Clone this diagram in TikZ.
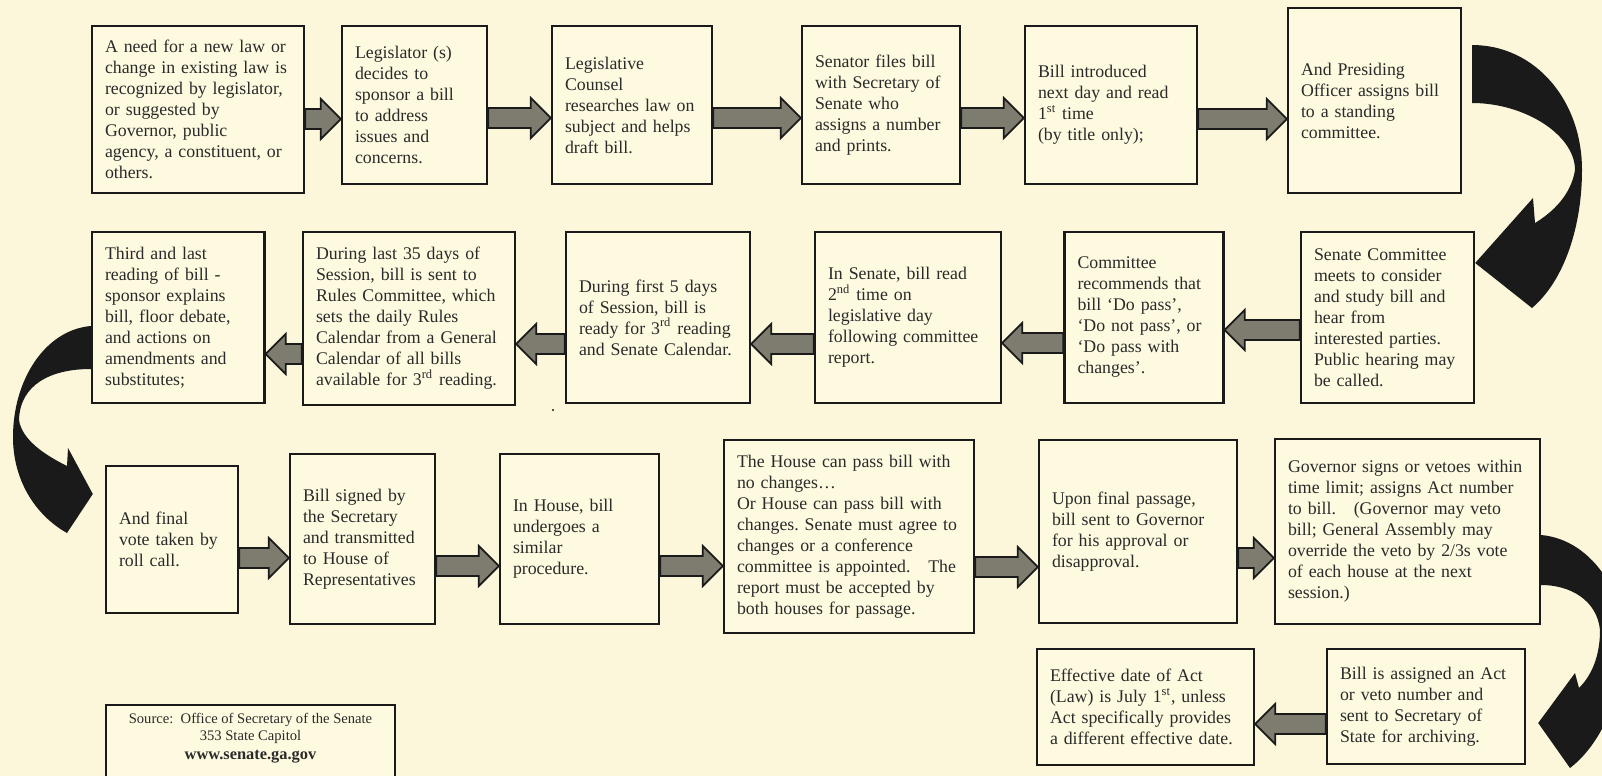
\documentclass[tikz,border=0pt]{standalone}
\usepackage{fontspec}
\setmainfont{Liberation Serif}
\usetikzlibrary{calc}

\begin{document}
\frenchspacing
\begin{tikzpicture}[x=0.5pt, y=-0.5pt,
    stage/.style={draw=borderColour, fill=fillColour, line width=1.2pt, inner xsep=6.5pt, inner ysep=3pt,
        align=left, text=textColour, font=\fontsize{8.9pt}{10.5pt}\selectfont},
    blockarrow/.style={fill=arrowColour, draw=borderColour, line width=0.9pt, line join=miter}]
    % Define colours
    \definecolor{borderColour}{HTML}{1A1A1A}
    \definecolor{textColour}{HTML}{2A2A2A}
    \definecolor{fillColour}{HTML}{FEFAE0}
    \definecolor{backColour}{HTML}{FCF7DA}
    \definecolor{arrowColour}{HTML}{7D7C6E}

    % Background and page size
    \fill[backColour] (0,0) rectangle (1602,776);
    \useasboundingbox (0,0) rectangle (1602,776);

    % Define block arrows (from, to, height)
    \def\blockRight#1#2#3{%
        \filldraw[blockarrow] ($(#1.east |- 0,#3)+(0,-10)$) -- ($(#2.west |- 0,#3)+(-20,-10)$)
            -- ($(#2.west |- 0,#3)+(-20,-20)$) -- (#2.west |- 0,#3) -- ($(#2.west |- 0,#3)+(-20,20)$)
            -- ($(#2.west |- 0,#3)+(-20,10)$) -- ($(#1.east |- 0,#3)+(0,10)$) -- cycle;}
    \def\blockLeft#1#2#3{%
        \filldraw[blockarrow] ($(#1.west |- 0,#3)+(0,-10)$) -- ($(#2.east |- 0,#3)+(20,-10)$)
            -- ($(#2.east |- 0,#3)+(20,-20)$) -- (#2.east |- 0,#3) -- ($(#2.east |- 0,#3)+(20,20)$)
            -- ($(#2.east |- 0,#3)+(20,10)$) -- ($(#1.west |- 0,#3)+(0,10)$) -- cycle;}

    % First row
    \node[stage, minimum width=106pt, minimum height=83.5pt, text width=93pt] (need) at (198,109.5)
        {A need for a new law or\\ change in existing law is\\ recognized by legislator,\\ or suggested by\\ Governor, public\\ agency, a constituent, or\\ others.};
    \node[stage, minimum width=72.5pt, minimum height=79pt, text width=59.5pt] (sponsor) at (414.5,105)
        {Legislator (s)\\ decides to\\ sponsor a bill\\ to address\\ issues and\\ concerns.};
    \node[stage, minimum width=80pt, minimum height=79pt, text width=67pt] (counsel) at (632,105)
        {Legislative\\ Counsel\\ researches law on\\ subject and helps\\ draft bill.};
    \node[stage, minimum width=79pt, minimum height=79pt, text width=66pt] (files) at (881,105)
        {Senator files bill\\ with Secretary of\\ Senate who\\ assigns a number\\ and prints.};
    \node[stage, minimum width=86pt, minimum height=79pt, text width=73pt] (introduced) at (1111,105)
        {Bill introduced\\ next day and read\\ 1\textsuperscript{st} time\\ (by title only);\\[4pt]};
    \node[stage, minimum width=86.5pt, minimum height=92.5pt, text width=73.5pt] (assigns) at (1374.5,100.5)
        {And Presiding\\ Officer assigns bill\\ to a standing\\ committee.};

    % Second row
    \node[stage, minimum width=86.25pt, minimum height=85.5pt, text width=73.25pt] (third) at (178.25,317.5)
        {Third and last\\ reading of bill -\\ sponsor explains\\ bill, floor debate,\\ and actions on\\ amendments and\\ substitutes;};
    \node[stage, minimum width=106pt, minimum height=86.5pt, text width=93pt] (rules) at (409,318.5)
        {During last 35 days of\\ Session, bill is sent to\\ Rules Committee, which\\ sets the daily Rules\\ Calendar from a General\\ Calendar of all bills\\ available for 3\textsuperscript{rd} reading.};
    \node[stage, minimum width=92pt, minimum height=85.5pt, text width=79pt] (firstFive) at (658,317.5)
        {During first 5 days\\ of Session, bill is\\ ready for 3\textsuperscript{rd} reading\\ and Senate Calendar.\\[6pt]};
    \node[stage, minimum width=93pt, minimum height=85.5pt, text width=80pt] (secondRead) at (908,317.5)
        {In Senate, bill read\\ 2\textsuperscript{nd} time on\\ legislative day\\ following committee\\ report.};
    \node[stage, minimum width=79.5pt, minimum height=85.5pt, text width=66.5pt] (recommends) at (1144,317.5)
        {Committee\\ recommends that\\ bill ‘Do pass’,\\ ‘Do not pass’, or\\ ‘Do pass with\\ changes’.};
    \node[stage, minimum width=86.5pt, minimum height=85.5pt, text width=73.5pt] (committee) at (1387.5,317.5)
        {Senate Committee\\ meets to consider\\ and study bill and\\ hear from\\ interested parties.\\ Public hearing may\\ be called.};

    % Third row
    \node[stage, minimum width=66pt, minimum height=73.5pt, text width=53pt] (final) at (172,539.5)
        {And final\\ vote taken by\\ roll call.};
    \node[stage, minimum width=72.5pt, minimum height=85pt, text width=59.5pt] (signed) at (362.5,539)
        {Bill signed by\\ the Secretary\\ and transmitted\\ to House of\\ Representatives};
    \node[stage, minimum width=79.5pt, minimum height=85pt, text width=66.5pt] (house) at (579.5,539)
        {In House, bill\\ undergoes a\\ similar\\ procedure.\\[6pt]};
    \node[stage, minimum width=125pt, minimum height=96.5pt, text width=112pt] (passage) at (849,536.5)
        {The House can pass bill with\\ no changes…\\ Or House can pass bill with\\ changes. Senate must agree to\\ changes or a conference\\ committee is appointed.\ \ \ The\\ report must be accepted by\\ both houses for passage.};
    \node[stage, minimum width=99pt, minimum height=91.5pt, text width=86pt] (upon) at (1138,531.5)
        {Upon final passage,\\ bill sent to Governor\\ for his approval or\\ disapproval.};
    \node[stage, minimum width=132.5pt, minimum height=92.5pt, text width=119.5pt] (governor) at (1407.5,531.5)
        {Governor signs or vetoes within\\ time limit; assigns Act number\\ to bill.\ \ \ (Governor may veto\\ bill; General Assembly may\\ override the veto by 2/3s vote\\ of each house at the next\\ session.)};

    % Fourth row
    \node[stage, minimum width=108.5pt, minimum height=58pt, text width=95.5pt] (effective) at (1145.5,707)
        {Effective date of Act\\ (Law) is July 1\textsuperscript{st}, unless\\ Act specifically provides\\ a different effective date.};
    \node[stage, minimum width=99pt, minimum height=57.5pt, text width=86pt] (archive) at (1426,706.5)
        {Bill is assigned an Act\\ or veto number and\\ sent to Secretary of\\ State for archiving.};

    % Source box
    \node[stage, align=center, anchor=north, minimum width=144.5pt, inner ysep=4pt, text depth=30pt,
        font=\fontsize{7.3pt}{8.5pt}\selectfont] (source) at (250.5,704)
        {Source:\ \ Office of Secretary of the Senate\\ 353 State Capitol\hspace*{12pt}\\[1pt]
         {\fontsize{8.2pt}{9pt}\selectfont\bfseries www.senate.ga.gov}};

    % Straight arrows
    \blockRight{need}{sponsor}{119}
    \blockRight{sponsor}{counsel}{118}
    \blockRight{counsel}{files}{118}
    \blockRight{files}{introduced}{118}
    \blockRight{introduced}{assigns}{119}
    \blockLeft{committee}{recommends}{330}
    \blockLeft{recommends}{secondRead}{343}
    \blockLeft{secondRead}{firstFive}{344}
    \blockLeft{firstFive}{rules}{344}
    \blockLeft{rules}{third}{354}
    \blockRight{final}{signed}{558}
    \blockRight{signed}{house}{566}
    \blockRight{house}{passage}{566}
    \blockRight{passage}{upon}{567}
    \blockRight{upon}{governor}{558}
    \blockLeft{archive}{effective}{724}

    % Curved arrows between rows
    \fill[borderColour] (1472,45) .. controls (1535,45) and (1582,100) .. (1582,170)
        .. controls (1582,225) and (1565,280) .. (1532,308) -- (committee.east |- 0,263)
        -- (1533,198) -- (1535,223) .. controls (1553,212) and (1571,195) .. (1575,170)
        .. controls (1575,135) and (1525,103) .. (1472,103) -- cycle;
    \fill[borderColour] (third.west |- 0,326) .. controls (45,330) and (13,380) .. (13,437)
        .. controls (13,480) and (35,515) .. (67,533) -- ($(final.west |- 0,494)+(-12,0)$)
        -- (68,448) -- (67,466) .. controls (45,455) and (22,440) .. (19,420)
        .. controls (20,385) and (50,369) .. (third.west |- 0,369) -- cycle;
    \fill[borderColour] (governor.east |- 0,535) .. controls (1595,540) and (1628,600) .. (1625,650)
        .. controls (1620,700) and (1600,745) .. (1570,768) -- ($(archive.east |- 0,723)+(12,0)$)
        -- (1575,673) -- (1579,688) .. controls (1595,672) and (1600,650) .. (1600,630)
        .. controls (1597,600) and (1570,585) .. (governor.east |- 0,585) -- cycle;

    % Stray dot
    \fill[borderColour] (553,410) circle (1.2);
\end{tikzpicture}
\end{document}
